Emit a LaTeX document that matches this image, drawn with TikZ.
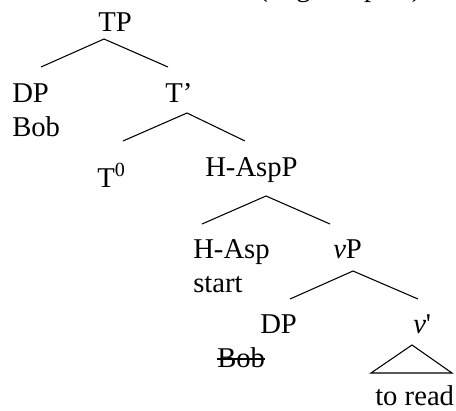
\documentclass[tikz,border=0pt]{standalone}
\usepackage{fontspec}
\setmainfont{Liberation Serif}

\tikzset{
  lbl/.style={anchor=base west,inner sep=0pt,font=\fontsize{21.5}{26}\selectfont},
  branch/.style={line width=0.8pt}
}

\begin{document}
\begin{tikzpicture}[x=0.75pt,y=0.75pt,yscale=-1,xscale=1]
\useasboundingbox (0,0) rectangle (456,410);
\clip (0,0) rectangle (456,410);

% Text Node (caption, cut at the top edge)
\node [lbl] (cap) at (258,-3) {(High Aspect)};

% Text Node
\node [lbl] (tp) at (98,32) {TP};
% Text Node
\node [lbl] (dp) at (12,102) {DP};
% Text Node
\node [lbl] (bob) at (12,136) {Bob};
% Text Node
\node [lbl] (tbar) at (165,102) {T’};
% Text Node
\node [lbl] (tzero) at (97,187) {T\textsuperscript{0}};
% Text Node
\node [lbl] (haspp) at (205,176) {H-AspP};
% Text Node
\node [lbl] (hasp) at (193,258) {H-Asp};
% Text Node
\node [lbl] (start) at (193,292) {start};
% Text Node
\node [lbl] (vp) at (333,258) {\textit{v}P};
% Text Node
\node [lbl] (dplow) at (260,333) {DP};
% Text Node
\node [lbl] (vbar) at (413,333) {\textit{v}\textquotesingle};
% Text Node
\node [lbl] (boblow) at (217,367) {Bob};
% Text Node
\node [lbl] (toread) at (375,405) {to read};

% branch points
\coordinate (tp-a) at (104,39);  \coordinate (tp-l) at (41,67);   \coordinate (tp-r) at (168,67);
\coordinate (tb-a) at (187,113); \coordinate (tb-l) at (123,141); \coordinate (tb-r) at (245,141);
\coordinate (ha-a) at (266,196); \coordinate (ha-l) at (202,224); \coordinate (ha-r) at (330,224);
\coordinate (vp-a) at (353,271); \coordinate (vp-l) at (290,299); \coordinate (vp-r) at (418,299);
\coordinate (vb-a) at (412,345); \coordinate (vb-l) at (371,373); \coordinate (vb-r) at (452,373);

%Straight Lines
\draw [branch] (tp-l) -- (tp-a) -- (tp-r);
\draw [branch] (tb-l) -- (tb-a) -- (tb-r);
\draw [branch] (ha-l) -- (ha-a) -- (ha-r);
\draw [branch] (vp-l) -- (vp-a) -- (vp-r);
%Triangle
\draw [branch] (vb-a) -- (vb-l) -- (vb-r) -- cycle;
%Strike through
\draw [branch] ([yshift=-6pt]boblow.base west) -- ([yshift=-6pt]boblow.base east);

\end{tikzpicture}
\end{document}
